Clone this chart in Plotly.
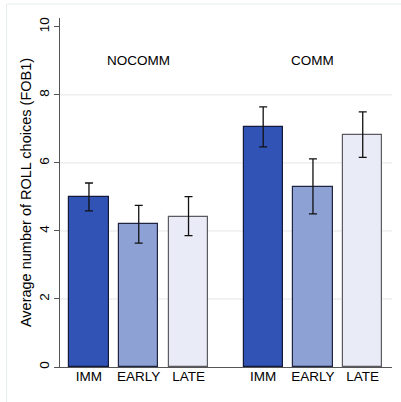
import plotly.graph_objects as go

groups = ["NOCOMM", "COMM"]
timings = ["IMM", "EARLY", "LATE"]
means = {
    "NOCOMM": [5.0, 4.2, 4.42],
    "COMM": [7.05, 5.3, 6.83],
}
err_hi = {
    "NOCOMM": [5.41, 4.75, 5.01],
    "COMM": [7.65, 6.12, 7.50],
}
err_lo = {
    "NOCOMM": [4.59, 3.64, 3.86],
    "COMM": [6.47, 4.50, 6.16],
}
y_ticks = [0, 2, 4, 6, 8, 10]

fill_colors = ["#3253b6", "#8ea1d5", "#e9ecf6"]
line_colors = ["#14193a", "#1f2540", "#5a5a60"]

fig = go.Figure()
tickvals, ticktext = [], []
group_centers = []
for gi, g in enumerate(groups):
    base = gi * 3.5
    group_centers.append(base + 1)
    for ti, t in enumerate(timings):
        x = base + ti
        m = means[g][ti]
        fig.add_trace(go.Bar(
            x=[x], y=[m], width=0.79,
            marker=dict(color=fill_colors[ti], line=dict(color=line_colors[ti], width=1.2)),
            error_y=dict(type="data", symmetric=False,
                         array=[err_hi[g][ti] - m], arrayminus=[m - err_lo[g][ti]],
                         color="#111111", thickness=1.3, width=4),
            showlegend=False, hoverinfo="skip",
        ))
        tickvals.append(x)
        ticktext.append(t)

for gi, g in enumerate(groups):
    fig.add_annotation(x=group_centers[gi], y=9, text=g, showarrow=False,
                       font=dict(size=13.5, color="#000000"), xref="x", yref="y")

for v in y_ticks[1:-1]:
    fig.add_shape(type="line", xref="paper", yref="y", x0=0, x1=1, y0=v, y1=v,
                  line=dict(color="#e6e6e6", width=1), layer="below")

# outer light frame
fig.add_shape(type="rect", xref="paper", yref="paper",
              x0=-53.5 / 332, x1=1.1, y0=-0.2, y1=1 + 14 / 350,
              line=dict(color="#e8eeee", width=1), fillcolor="rgba(0,0,0,0)", layer="below")

fig.update_layout(
    width=401, height=402,
    margin=dict(l=60, r=9, t=17.5, b=34.5),
    paper_bgcolor="white", plot_bgcolor="white",
    font=dict(family="Liberation Sans, Arial, sans-serif", color="#000000"),
    xaxis=dict(range=[-0.582, 6.088], tickvals=tickvals, ticktext=ticktext,
               showgrid=False, zeroline=False, showline=True, linecolor="#555555",
               linewidth=1, ticks="", tickfont=dict(size=13.5), fixedrange=True,
               ticklabelstandoff=-3),
    yaxis=dict(range=[0, 10.26], tickvals=y_ticks, tickangle=-90, showgrid=False,
               zeroline=False, showline=True, linecolor="#555555", linewidth=1,
               ticks="outside", ticklen=5, tickcolor="#555555", tickfont=dict(size=13.5),
               title=dict(text="Average number of ROLL choices (FOB1)", font=dict(size=14.5),
                          standoff=1)),
    bargap=0,
)

fig.write_html("out.html")
